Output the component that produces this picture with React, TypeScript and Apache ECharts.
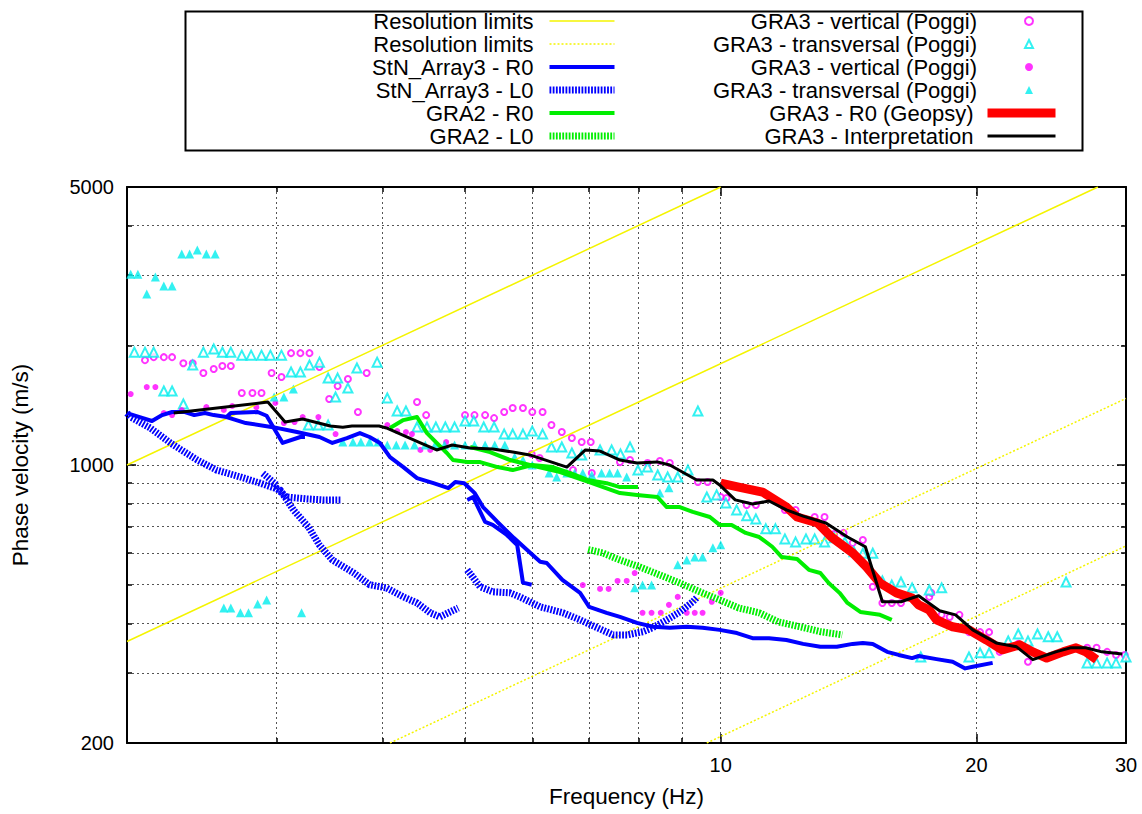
import React, { useEffect, useRef } from 'react';
import * as echarts from 'echarts';

// ---------- tick values ----------
const xMajorTicks = [10, 20, 30];
const xMinorTicks = [3, 4, 5, 6, 7, 8, 9];
const yMajorTicks = [200, 1000, 5000];
const yMinorTicks = [300, 400, 500, 600, 700, 800, 900, 2000, 3000, 4000];

// ---------- resolution limits (f, v) ----------
const resSolidA = [[2, 1000], [10, 5000]];
const resSolidB = [[2, 360], [27.8, 5000]];
const resDotA = [[4.08, 200], [30, 1470]];
const resDotB = [[9.63, 200], [30, 626]];

// ---------- StN_Array3 - R0 ----------
const stnR0A = [[2.0, 1351], [2.07, 1320], [2.14, 1290], [2.2, 1335], [2.26, 1359], [2.34, 1359], [2.4, 1335], [2.47, 1351], [2.53, 1335], [2.62, 1320], [2.76, 1275], [2.97, 1245], [3.17, 1210], [3.37, 1176], [3.49, 1136], [3.63, 1169], [3.76, 1203], [3.86, 1176], [3.97, 1136], [4.08, 1047], [4.23, 988], [4.39, 927], [4.59, 900], [4.78, 875], [4.87, 906], [4.99, 900], [5.13, 851], [5.25, 784], [5.46, 719], [5.71, 655], [5.97, 601], [6.13, 571], [6.24, 567], [6.51, 514], [6.83, 477], [7.0, 440], [7.34, 425], [7.61, 415], [7.97, 401], [8.32, 392], [8.71, 390], [9.12, 392], [9.52, 390], [9.97, 385], [10.45, 378], [10.9, 367], [11.4, 367], [11.95, 363], [12.5, 355], [13.1, 349], [13.7, 349], [14.3, 355], [14.7, 357], [15.1, 355], [15.7, 339], [16.2, 333], [16.8, 327], [17.1, 331], [17.95, 325], [18.75, 320], [19.4, 308], [19.8, 311], [20.9, 318]];
const stnR0B = [[2.62, 1320], [2.65, 1351], [2.85, 1359], [2.92, 1330], [3.05, 1136], [3.2, 1176], [3.24, 1176]];
const stnR0C = [[5.03, 817], [5.11, 831], [5.28, 719], [5.39, 707], [5.6, 667], [5.76, 629], [5.85, 506], [5.99, 500]];

// ---------- StN_Array3 - L0 ----------
const stnL0A = [[2.0, 1351], [2.02, 1320], [2.13, 1239], [2.25, 1136], [2.42, 1029], [2.55, 971], [2.72, 933], [2.87, 900], [3.03, 865], [3.14, 771], [3.27, 699], [3.37, 629], [3.49, 577], [3.7, 535], [3.86, 500], [4.04, 491], [4.23, 466], [4.39, 450], [4.55, 425], [4.67, 415], [4.8, 427], [4.91, 437]];
const stnL0B = [[2.99, 880], [3.08, 831], [3.25, 822], [3.4, 817], [3.58, 817]];
const stnL0C = [[2.89, 953], [3.0, 891]];
const stnL0D = [[5.03, 545], [5.21, 494], [5.39, 480], [5.65, 477], [5.8, 466], [6.13, 440], [6.52, 425], [6.83, 408], [7.15, 390], [7.47, 374], [7.76, 374], [8.1, 381], [8.32, 390], [8.64, 408], [8.95, 427], [9.27, 453], [9.39, 466]];

// ---------- GRA2 ----------
const gra2R0A = [[4.08, 1239], [4.23, 1297], [4.39, 1320], [4.51, 1203], [4.63, 1136], [4.76, 1072], [4.84, 1029], [5.03, 1017], [5.21, 1017], [5.46, 988], [5.69, 971], [6.0, 1000], [6.34, 988], [6.64, 955], [6.97, 917], [7.34, 900], [7.61, 880], [7.99, 880]];
const gra2R0B = [[5.07, 1110], [5.35, 1078], [5.65, 1029], [5.96, 1000], [6.47, 960], [7.0, 906], [7.61, 850], [7.97, 841], [8.42, 831], [8.64, 784], [8.95, 784], [9.27, 762], [9.71, 740], [9.97, 707], [10.3, 707], [10.7, 675], [11.1, 659], [11.5, 623], [11.8, 587], [12.3, 580], [12.7, 545], [13.1, 535], [13.4, 505], [13.8, 477], [14.1, 450], [14.6, 427], [15.4, 420], [15.9, 408]];
const gra2L0 = [[6.98, 613], [7.26, 601], [7.61, 577], [8.03, 554], [8.48, 529], [8.95, 505], [9.45, 480], [9.97, 458], [10.5, 437], [11.1, 425], [11.7, 403], [12.4, 392], [13.1, 381], [13.9, 374]];

// ---------- GRA3 ----------
const gra3Geopsy = [[10.0, 900], [10.5, 880], [11.2, 855], [11.95, 784], [12.3, 740], [13.0, 715], [13.5, 659], [14.3, 601], [14.85, 554], [15.4, 505], [16.1, 477], [16.8, 463], [17.1, 445], [17.6, 432], [17.95, 408], [18.75, 392], [19.6, 385], [20.55, 363], [21.45, 343], [22.5, 353], [23.3, 339], [24.2, 327], [25.3, 339], [26.2, 347], [26.9, 339], [27.7, 324]];
const gra3Interp = [[2.27, 1351], [2.93, 1440], [3.07, 1283], [3.22, 1305], [3.47, 1253], [3.59, 1245], [3.68, 1253], [3.96, 1253], [4.04, 1239], [4.43, 1136], [4.63, 1091], [4.83, 1123], [5.07, 1104], [5.39, 1097], [5.69, 1078], [5.96, 1060], [6.07, 1047], [6.59, 988], [6.93, 1091], [7.21, 1084], [7.61, 1029], [7.97, 1012], [8.42, 1018], [8.71, 1000], [9.37, 917], [9.79, 917], [9.97, 891], [10.4, 817], [10.9, 798], [11.4, 812], [11.95, 771], [12.5, 744], [13.3, 715], [14.1, 659], [14.8, 623], [15.5, 453], [16.3, 453], [17.1, 469], [18.1, 430], [18.9, 420], [19.8, 385], [21.1, 357], [22.3, 349], [23.3, 324], [24.8, 339], [25.8, 347], [26.9, 347], [28.1, 339], [29.7, 335]];

const vertOpen = [[2.1, 1835], [2.15, 1867], [2.21, 1867], [2.26, 1867], [2.33, 1803], [2.39, 1803], [2.46, 1703], [2.53, 1743], [2.59, 1773], [2.65, 1773], [2.73, 1517], [2.81, 1517], [2.88, 1517], [2.96, 1703], [3.04, 1664], [3.12, 1911], [3.2, 1911], [3.28, 1911], [3.37, 1763], [3.46, 1465], [3.54, 1579], [3.64, 1645], [3.74, 1359], [3.83, 1703], [4.39, 1440], [4.5, 1335], [5.0, 1335], [5.13, 1335], [5.28, 1335], [5.41, 1312], [5.56, 1359], [5.69, 1391], [5.85, 1391], [6.0, 1359], [6.17, 1359], [6.32, 1260], [6.5, 1210], [6.68, 1169], [6.86, 1142], [7.03, 1142], [5.99, 1066], [6.12, 1041], [7.61, 1017], [7.82, 1029], [8.2, 1012], [8.48, 1023], [8.71, 1012], [6.7, 971], [7.05, 955], [9.4, 906], [9.65, 906], [10.0, 831], [10.16, 826], [10.73, 793], [11.0, 793], [11.9, 771], [12.25, 771], [12.9, 740], [13.25, 740], [13.6, 671], [13.95, 675], [14.3, 637], [14.7, 648], [15.1, 494], [15.5, 450], [15.9, 450], [16.3, 450], [17.6, 466], [17.7, 477], [18.2, 420], [18.6, 415], [19.1, 420], [19.6, 380], [20.2, 380], [20.7, 380], [21.3, 339], [22.4, 355], [23.0, 320], [27.0, 347], [27.7, 347], [28.5, 339], [29.2, 333], [29.9, 333]];
const transOpen = [[2.04, 1922], [2.1, 1922], [2.15, 1922], [2.39, 1783], [2.46, 1922], [2.53, 1957], [2.59, 1922], [2.65, 1922], [2.73, 1889], [2.8, 1889], [2.88, 1889], [2.95, 1889], [3.04, 1889], [3.12, 1713], [3.2, 1713], [3.28, 1783], [3.37, 1814], [3.45, 1654], [2.21, 1535], [2.26, 1535], [2.33, 1423], [3.27, 1260], [3.36, 1260], [3.45, 1260], [3.54, 1654], [3.64, 1561], [3.52, 1482], [3.73, 1753], [3.94, 1814], [4.05, 1474], [4.16, 1367], [4.26, 1367], [4.39, 1246], [4.51, 1246], [4.62, 1246], [4.74, 1246], [4.86, 1246], [5.0, 1290], [5.12, 1290], [5.26, 1246], [5.41, 1246], [5.56, 1196], [5.69, 1196], [5.85, 1196], [6.0, 1217], [6.17, 1196], [6.32, 1110], [6.5, 1110], [6.68, 1072], [6.86, 1060], [7.21, 1091], [7.44, 1091], [7.62, 1066], [7.82, 1110], [9.4, 1367], [7.99, 971], [8.2, 988], [8.43, 944], [8.66, 933], [8.9, 933], [9.15, 971], [9.63, 831], [9.89, 841], [10.14, 803], [10.44, 771], [10.73, 745], [11.0, 732], [11.3, 691], [11.6, 691], [11.9, 652], [12.25, 640], [12.6, 652], [12.9, 652], [13.25, 640], [13.6, 656], [14.0, 640], [14.35, 605], [14.7, 600], [15.1, 600], [15.5, 511], [15.9, 499], [16.3, 508], [16.8, 491], [17.2, 329], [17.6, 485], [18.2, 491], [19.6, 329], [20.2, 337], [20.7, 337], [21.8, 361], [22.4, 376], [23.0, 361], [23.6, 376], [24.3, 370], [24.9, 370], [25.5, 508], [27.0, 318], [27.7, 318], [28.5, 318], [29.2, 318], [30.0, 329]];
const vertFilled = [[2.02, 1508], [2.11, 1570], [2.16, 1570], [2.21, 1351], [2.26, 1335], [2.32, 1375], [2.48, 1398], [2.6, 1375], [2.66, 1407], [2.84, 1398], [2.99, 1432], [3.06, 1275], [3.15, 1282], [3.22, 1320], [3.36, 1320], [3.52, 1196], [4.05, 1260], [4.16, 1217], [4.26, 1210], [4.33, 1196], [4.43, 1091], [4.55, 1091], [4.75, 1142], [6.88, 499], [7.21, 488], [7.38, 488], [7.56, 511], [7.75, 511], [7.92, 535], [8.09, 425], [8.29, 425], [8.5, 425], [8.69, 445], [8.9, 466], [9.12, 425], [9.32, 425], [9.52, 425], [9.76, 453], [10.0, 477]];
const transFilled = [[2.32, 3390], [2.37, 3390], [2.42, 3470], [2.48, 3390], [2.54, 3390], [2.02, 3019], [2.06, 3019], [2.11, 2690], [2.16, 2968], [2.21, 2818], [2.26, 2818], [2.98, 1482], [3.06, 1482], [3.14, 1552], [3.59, 1142], [3.69, 1142], [3.77, 1142], [3.86, 1142], [3.95, 1142], [4.05, 1123], [4.15, 1123], [4.25, 1123], [4.36, 1123], [4.49, 1123], [4.61, 1123], [4.73, 1123], [4.86, 1123], [5.0, 1123], [5.13, 1123], [5.28, 1123], [5.42, 1123], [5.57, 1123], [5.72, 1047], [5.85, 1029], [6.0, 1000], [6.28, 955], [6.41, 933], [6.59, 955], [6.73, 955], [6.88, 955], [7.05, 944], [7.24, 955], [7.4, 955], [7.56, 955], [7.75, 933], [8.48, 850], [8.69, 876], [8.9, 561], [9.12, 577], [9.32, 587], [9.52, 587], [9.79, 619], [10.0, 630], [7.92, 491], [8.09, 499], [8.29, 499], [2.6, 437], [2.65, 437], [2.72, 425], [2.78, 425], [2.85, 447], [2.92, 458], [3.21, 425]];

// ---------- names ----------
const N_RES = 'Resolution limits';
const N_RES2 = 'Resolution limits ';
const N_STN_R0 = 'StN_Array3 - R0';
const N_STN_L0 = 'StN_Array3 - L0';
const N_GRA2_R0 = 'GRA2 - R0';
const N_GRA2_L0 = 'GRA2 - L0';
const N_V1 = 'GRA3 - vertical (Poggi)';
const N_T1 = 'GRA3 - transversal (Poggi)';
const N_V2 = 'GRA3 - vertical (Poggi) ';
const N_T2 = 'GRA3 - transversal (Poggi) ';
const N_GEO = 'GRA3 - R0 (Geopsy)';
const N_INT = 'GRA3 - Interpretation';

const FONT = '"Liberation Sans", Arial, Helvetica, sans-serif';
const YELLOW = '#f4f400';
const BLUE = '#0000ff';
const GREEN = '#00ee00';
const MAGENTA = '#ff00ff';
const CYAN = '#00eeee';
const STRIPE = [1.8, 1.4];

function line(name: string, data: number[][], color: string, width: number, type: any = 'solid') {
  return {
    type: 'line', name, data, symbol: 'none', clip: true,
    lineStyle: { color, width, type, cap: 'butt', join: 'round' },
    itemStyle: { color },
  };
}

function scatter(name: string, data: number[][], symbol: string, size: number, color: string, border: number) {
  return {
    type: 'scatter', name, data, symbol, symbolSize: size, clip: true,
    itemStyle: { color, borderColor: color, borderWidth: border },
  };
}

const fmt = (v: number) => String(Math.round(v));

function xAx(position: string, ticks: number[], len: number, major: boolean, withLine: boolean, split: boolean) {
  return {
    type: 'log', logBase: 10, min: 2, max: 30, position, gridIndex: 0,
    axisLine: { show: withLine, onZero: false, lineStyle: { color: '#000', width: 2 } },
    axisTick: { show: true, inside: true, length: len, customValues: ticks, lineStyle: { color: '#000', width: 1.5 } },
    axisLabel: major && position === 'bottom'
      ? { show: true, customValues: xMajorTicks, margin: 12, color: '#000', fontSize: 20, fontFamily: FONT, formatter: fmt }
      : { show: false },
    splitLine: { show: split, lineStyle: { color: '#555', width: 1, type: [2, 3] } },
    minorTick: { show: false }, minorSplitLine: { show: false },
    ...(major && position === 'bottom'
      ? { name: 'Frequency (Hz)', nameLocation: 'middle', nameGap: 42, nameTextStyle: { color: '#000', fontSize: 22.5, fontFamily: FONT } }
      : {}),
  };
}

function yAx(position: string, ticks: number[], len: number, major: boolean, withLine: boolean, split: boolean) {
  return {
    type: 'log', logBase: 10, min: 200, max: 5000, position, gridIndex: 0,
    axisLine: { show: withLine, onZero: false, lineStyle: { color: '#000', width: 2 } },
    axisTick: { show: true, inside: true, length: len, customValues: ticks, lineStyle: { color: '#000', width: 1.5 } },
    axisLabel: major && position === 'left'
      ? { show: true, customValues: yMajorTicks, margin: 13, color: '#000', fontSize: 20, fontFamily: FONT, formatter: fmt }
      : { show: false },
    splitLine: { show: split, lineStyle: { color: '#555', width: 1, type: [2, 3] } },
    minorTick: { show: false }, minorSplitLine: { show: false },
    ...(major && position === 'left'
      ? { name: 'Phase velocity (m/s)', nameLocation: 'middle', nameGap: 95, nameRotate: 90, nameTextStyle: { color: '#000', fontSize: 22.5, fontFamily: FONT } }
      : {}),
  };
}

const legendText = (pad: number) => ({
  color: '#000', fontSize: 22, fontFamily: FONT, lineHeight: 23, padding: [0, pad, 0, 0],
});

const lineLegend = {
  orient: 'vertical', align: 'right', padding: 0, itemGap: 0, selectedMode: false,
  itemStyle: { opacity: 0 },
  lineStyle: { width: 'inherit', type: 'inherit', color: 'inherit' },
  formatter: (n: string) => n.trim(),
};

const option: any = {
  animation: false,
  backgroundColor: '#ffffff',
  grid: { left: 127, top: 187, width: 999, height: 556, containLabel: false, outerBoundsMode: 'none' },
  xAxis: [
    xAx('bottom', xMajorTicks, 9, true, true, true),
    xAx('bottom', xMinorTicks, 5, false, false, true),
    xAx('top', xMajorTicks, 9, false, true, false),
    xAx('top', xMinorTicks, 5, false, false, false),
  ],
  yAxis: [
    yAx('left', yMajorTicks, 9, true, true, true),
    yAx('left', yMinorTicks, 5, false, false, true),
    yAx('right', yMajorTicks, 9, false, true, false),
    yAx('right', yMinorTicks, 5, false, false, false),
  ],
  legend: [
    {
      ...lineLegend,
      data: [N_RES, N_RES2, N_STN_R0, N_STN_L0, N_GRA2_R0, N_GRA2_L0],
      right: 524, top: 9.5, itemWidth: 65, itemHeight: 14,
      textStyle: legendText(11),
    },
    {
      data: [N_V1, N_T1, N_V2, N_T2],
      orient: 'vertical', right: 108, top: 9.5, align: 'right', padding: 0, itemGap: 0,
      itemWidth: 8, itemHeight: 8, selectedMode: false,
      formatter: (n: string) => n.trim(), textStyle: legendText(43),
    },
    {
      ...lineLegend,
      data: [N_GEO, N_INT],
      right: 82, top: 101.5, itemWidth: 68, itemHeight: 14,
      textStyle: legendText(9),
    },
  ],
  graphic: [
    { type: 'rect', left: 183, top: 9, shape: { width: 897, height: 139 }, style: { fill: 'none', stroke: '#000', lineWidth: 2 }, silent: true },
  ],
  series: [
    line(N_RES, resSolidA, YELLOW, 1.5),
    line(N_RES, resSolidB, YELLOW, 1.5),
    line(N_RES2, resDotA, YELLOW, 1.5, [2, 2]),
    line(N_RES2, resDotB, YELLOW, 1.5, [2, 2]),
    line(N_STN_R0, stnR0A, BLUE, 4),
    line(N_STN_R0, stnR0B, BLUE, 4),
    line(N_STN_R0, stnR0C, BLUE, 4),
    line(N_STN_L0, stnL0A, BLUE, 7, STRIPE),
    line(N_STN_L0, stnL0B, BLUE, 7, STRIPE),
    line(N_STN_L0, stnL0C, BLUE, 7, STRIPE),
    line(N_STN_L0, stnL0D, BLUE, 7, STRIPE),
    line(N_GRA2_R0, gra2R0A, GREEN, 4),
    line(N_GRA2_R0, gra2R0B, GREEN, 4),
    line(N_GRA2_L0, gra2L0, GREEN, 7, STRIPE),
    scatter(N_V1, vertOpen, 'emptyCircle', 6, MAGENTA, 1.5),
    scatter(N_T1, transOpen, 'emptyTriangle', 9, CYAN, 2),
    scatter(N_V2, vertFilled, 'circle', 6, MAGENTA, 0),
    scatter(N_T2, transFilled, 'triangle', 9, CYAN, 0),
    line(N_GEO, gra3Geopsy, '#ff0000', 9),
    line(N_INT, gra3Interp, '#000000', 3),
  ],
};

export default function App() {
  const ref = useRef<HTMLDivElement>(null);
  useEffect(() => {
    if (!ref.current) return;
    const chart = echarts.init(ref.current, null, { renderer: 'svg' });
    chart.setOption(option);
    return () => chart.dispose();
  }, []);
  return (
    <div
      ref={ref}
      style={{ position: 'absolute', left: 0, top: 0, width: 1142, height: 814, background: '#fff' }}
    />
  );
}
